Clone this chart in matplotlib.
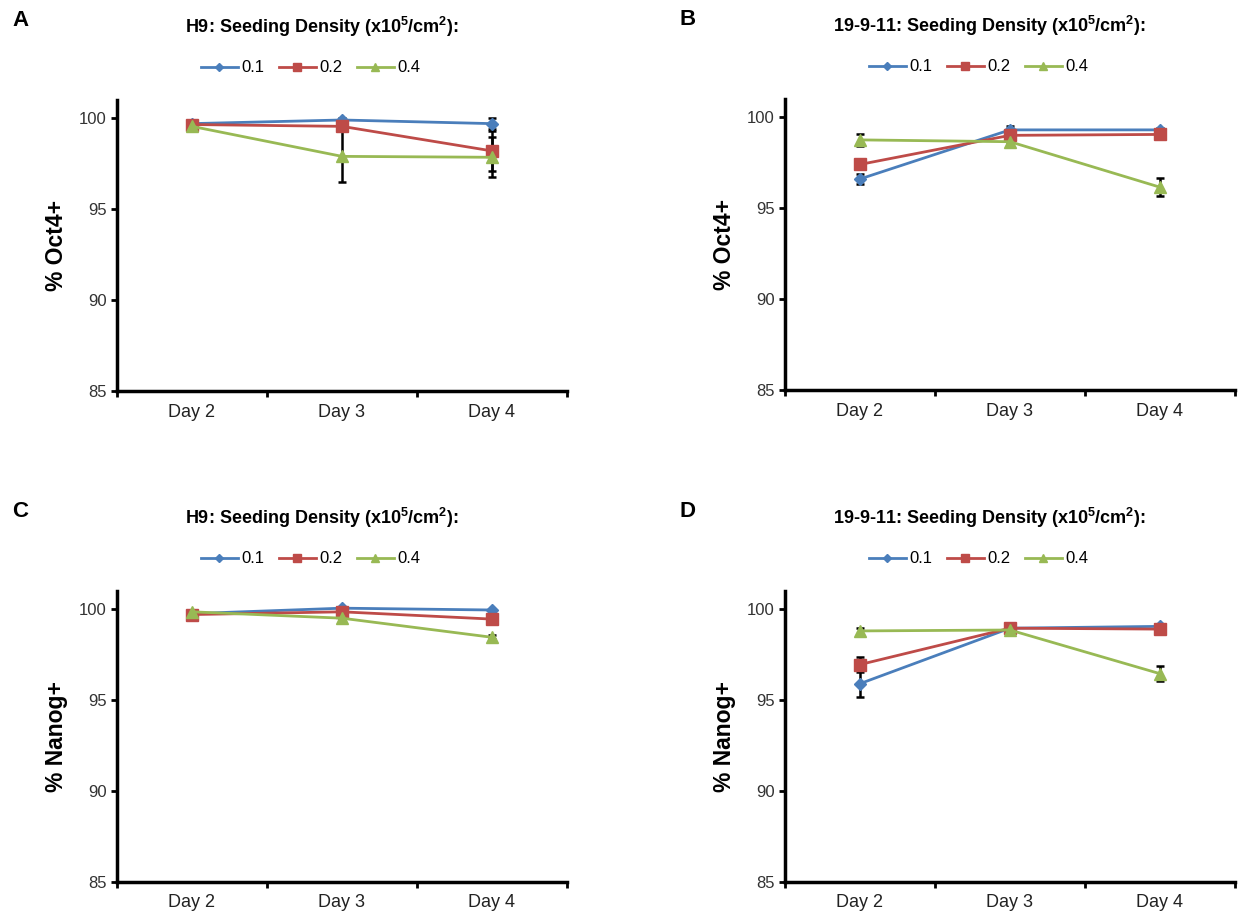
import matplotlib
matplotlib.use("Agg")
from matplotlib import pyplot as plt
from matplotlib.ticker import FixedLocator, NullFormatter

plt.rcParams["font.family"] = ["Liberation Sans", "DejaVu Sans"]
plt.rcParams["mathtext.default"] = "regular"

days = ["Day 2", "Day 3", "Day 4"]
densities = ["0.1", "0.2", "0.4"]

# panel A: H9 Oct4
a_vals = [[99.7, 99.9, 99.7], [99.65, 99.55, 98.2], [99.55, 97.9, 97.85]]
a_errs = [[0.05, 0.1, 0.3], [0.05, 0.1, 1.1], [0.1, 1.4, 1.1]]
# panel B: 19-9-11 Oct4
b_vals = [[96.6, 99.3, 99.3], [97.4, 99.0, 99.05], [98.75, 98.65, 96.15]]
b_errs = [[0.3, 0.2, 0.1], [0.1, 0.2, 0.2], [0.35, 0.1, 0.5]]
# panel C: H9 Nanog
c_vals = [[99.75, 100.05, 99.95], [99.7, 99.85, 99.45], [99.85, 99.5, 98.45]]
c_errs = [[0.05, 0.05, 0.05], [0.05, 0.05, 0.05], [0.05, 0.05, 0.1]]
# panel D: 19-9-11 Nanog
d_vals = [[95.9, 98.95, 99.05], [96.95, 98.95, 98.9], [98.8, 98.85, 96.45]]
d_errs = [[0.75, 0.1, 0.1], [0.4, 0.1, 0.1], [0.15, 0.1, 0.4]]

colors = ["#4A7EBB", "#BE4B48", "#98B954"]
markers = ["D", "s", "^"]
msizes = [6, 8, 8]

fig = plt.figure(figsize=(12.43, 9.24), dpi=100)

panels = [
    ("A", "H9", "% Oct4+", a_vals, a_errs, [0.0941, 0.5768, 0.362, 0.315]),
    ("B", "19-9-11", "% Oct4+", b_vals, b_errs, [0.6315, 0.5779, 0.362, 0.315]),
    ("C", "H9", "% Nanog+", c_vals, c_errs, [0.0941, 0.0455, 0.362, 0.315]),
    ("D", "19-9-11", "% Nanog+", d_vals, d_errs, [0.6315, 0.0455, 0.362, 0.315]),
]

for letter, line_name, ylab, vals, errs, pos in panels:
    ax = fig.add_axes(pos)
    x = [1, 2, 3]
    handles = []
    for i in range(3):
        ax.errorbar(x, vals[i], yerr=errs[i], fmt="none", ecolor="black",
                    elinewidth=1.8, capsize=3, capthick=1.8, zorder=2)
        (h,) = ax.plot(x, vals[i], color=colors[i], marker=markers[i],
                       markersize=msizes[i], linewidth=2, label=densities[i], zorder=3)
        handles.append(h)
    ax.set_xlim(0.5, 3.5)
    ax.set_ylim(85, 101)
    ax.set_yticks([85, 90, 95, 100])
    ax.set_xticks(x)
    ax.set_xticklabels(days, fontsize=13)
    ax.tick_params(axis="x", which="major", length=0, pad=9, labelcolor="#222222")
    ax.xaxis.set_minor_locator(FixedLocator([0.5, 1.5, 2.5, 3.5]))
    ax.xaxis.set_minor_formatter(NullFormatter())
    ax.tick_params(axis="x", which="minor", length=4, width=2, direction="out")
    ax.tick_params(axis="y", length=4, width=2, labelsize=12, labelcolor="#333333")
    for s in ["top", "right"]:
        ax.spines[s].set_visible(False)
    for s in ["left", "bottom"]:
        ax.spines[s].set_linewidth(2.5)
    ax.set_ylabel(ylab, fontsize=16.5, fontweight="bold", labelpad=8)

    # title and legend above each panel
    bbox = ax.get_position()
    cx = bbox.x0 + bbox.width * 0.455
    fig.text(cx, bbox.y1 + 0.079, line_name + ": Seeding Density (x10$^5$/cm$^2$):",
             ha="center", va="center", fontsize=13, fontweight="bold")
    fig.text(0.010 if letter in "AC" else 0.547, bbox.y1 + 0.086, letter,
             ha="left", va="center", fontsize=16, fontweight="bold")
    ax.legend(handles=handles, ncol=3, loc="center",
              bbox_to_anchor=(0.43, 1.11),
              frameon=False, fontsize=12, handlelength=2.2, handletextpad=0.2,
              columnspacing=0.9, markerscale=0.7)

fig.savefig("out.png", dpi=100)
